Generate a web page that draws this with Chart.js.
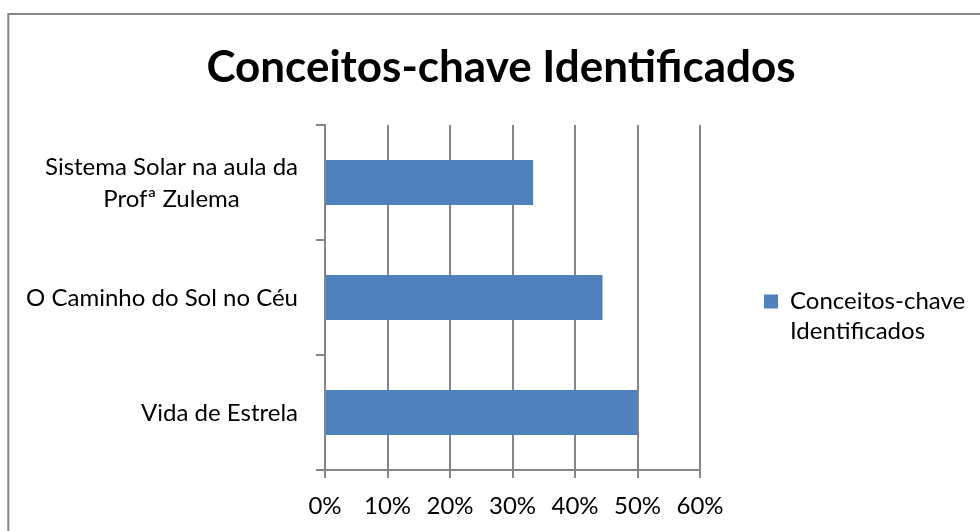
<!DOCTYPE html>
<html>
<head>
<meta charset="utf-8">
<script src="https://cdn.jsdelivr.net/npm/chart.js@4.4.1/dist/chart.umd.min.js"></script>
<style>
html,body{margin:0;padding:0;background:#fff;}
#wrap{width:980px;height:531px;position:relative;}
canvas{display:block;}
</style>
</head>
<body>
<div id="wrap"><canvas id="c" width="980" height="531"></canvas></div>
<script>
// ---- data ----
const chartTitle = 'Conceitos-chave Identificados';
const categories = [['Sistema Solar na aula da', 'Profª Zulema'], 'O Caminho do Sol no Céu', 'Vida de Estrela'];
const seriesName = 'Conceitos-chave Identificados';
const seriesLegendLines = ['Conceitos-chave', 'Identificados'];
const seriesValues = [33.3, 44.4, 50];
const xTickValues = [0, 10, 20, 30, 40, 50, 60];

const FONT = 'Lato';
const GRID = '#868686';
const BAR = '#4F81BD';

const framePlugin = {
  id: 'frame',
  beforeDraw(chart) {
    const ctx = chart.ctx;
    ctx.save();
    ctx.strokeStyle = GRID;
    ctx.lineWidth = 2;
    ctx.strokeRect(8.3, 14, 1000, 600);
    ctx.restore();
  }
};

const yLabelPlugin = {
  id: 'yLabels',
  afterDraw(chart) {
    const ctx = chart.ctx;
    const s = chart.scales.y;
    ctx.save();
    ctx.font = '24px ' + FONT;
    ctx.fillStyle = '#000';
    ctx.textBaseline = 'middle';
    ctx.textAlign = 'center';
    const rightX = s.right - 27;
    const lh = 32;
    chart.data.labels.forEach((lab, i) => {
      const lines = Array.isArray(lab) ? lab : [lab];
      const yc = s.getPixelForValue(i) + 1;
      const maxW = Math.max(...lines.map(l => ctx.measureText(l).width));
      const cx = rightX - maxW / 2;
      lines.forEach((l, j) => ctx.fillText(l, cx, yc + (j - (lines.length - 1) / 2) * lh));
    });
    ctx.restore();
  }
};

const legendWidthPlugin = {
  id: 'legendWidth',
  afterInit(chart) {
    const lg = chart.legend;
    if (!lg) return;
    const fit = lg.fit.bind(lg);
    lg.fit = function () { fit(); if (!this.isHorizontal()) this.width = 280; };
  }
};

new Chart(document.getElementById('c'), {
  type: 'bar',
  data: {
    labels: categories,
    datasets: [{
      label: seriesName,
      data: seriesValues,
      backgroundColor: BAR,
      borderWidth: 0,
      barPercentage: 0.39,
      categoryPercentage: 1
    }]
  },
  options: {
    indexAxis: 'y',
    responsive: false,
    animation: false,
    devicePixelRatio: 1,
    layout: { padding: { left: 22, right: 0, top: 0, bottom: 0 } },
    scales: {
      x: {
        min: 0, max: 60,
        afterBuildTicks: s => { s.ticks = xTickValues.map(v => ({ value: v })); },
        ticks: {
          callback: v => v + '%',
          font: { family: FONT, size: 24 },
          color: '#000',
          padding: 14,
          maxRotation: 0,
          autoSkip: false
        },
        grid: { color: GRID, lineWidth: 2, tickLength: 8, drawTicks: true },
        border: { display: true, color: GRID, width: 2 },
        afterFit: s => { s.height = 61; }
      },
      y: {
        grid: { display: true, drawOnChartArea: false, drawTicks: true, tickLength: 9, color: GRID, lineWidth: 2, offset: true },
        border: { display: true, color: GRID, width: 2 },
        ticks: { display: false },
        afterFit: s => { s.width = 325 - 22; }
      }
    },
    plugins: {
      title: {
        display: true,
        text: chartTitle,
        color: '#000',
        font: { family: FONT, size: 44, weight: 'bold', lineHeight: 1.2 },
        padding: { top: 41.6, bottom: 30.6 }
      },
      legend: {
        display: true,
        position: 'right',
        fullSize: false,
        align: 'center',
        title: { display: true, text: '', padding: { top: 17, bottom: 17 }, font: { size: 10, lineHeight: 1 } },
        labels: {
          font: { family: FONT, size: 24, lineHeight: 1.25 },
          color: '#000',
          boxWidth: 14,
          boxHeight: 14,
          padding: 64,
          generateLabels(chart) {
            return chart.data.datasets.map((ds, i) => ({
              text: seriesLegendLines,
              fillStyle: ds.backgroundColor,
              strokeStyle: ds.backgroundColor,
              fontColor: '#000',
              lineWidth: 0,
              hidden: false,
              datasetIndex: i
            }));
          }
        }
      },
      tooltip: { enabled: false }
    }
  },
  plugins: [framePlugin, yLabelPlugin, legendWidthPlugin]
});
</script>
</body>
</html>
